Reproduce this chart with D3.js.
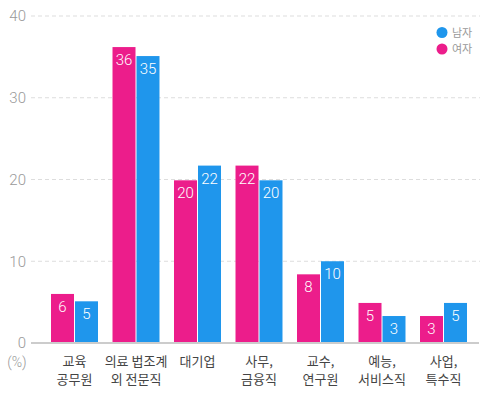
<!DOCTYPE html>
<html><head><meta charset="utf-8">
<script src="https://cdn.jsdelivr.net/npm/d3@7/dist/d3.min.js"></script>
<style>body{margin:0;background:#fff;} svg{display:block;font-family:"Noto Sans CJK KR","Noto Sans",sans-serif;}</style>
</head><body>
<svg id="c" width="487" height="394"></svg>
<script>
const categories = [["교육","공무원"],["의료 법조계","외 전문직"],["대기업"],["사무,","금융직"],["교수,","연구원"],["예능,","서비스직"],["사업,","특수직"]];
const female = [6.0, 36.2, 19.9, 21.7, 8.4, 4.9, 3.3];
const male = [5.1, 35.1, 21.7, 19.9, 10.0, 3.3, 4.9];
const seriesNames = ["여자","남자"];
const legendNames = ["남자","여자"];
const yTicks = [0,10,20,30,40];
const colors = {"여자":"#ec1d8b","남자":"#1f96ec"};

const svg = d3.select("#c");
const x0 = d3.scaleBand().domain(d3.range(categories.length)).range([43.75,474.25]).paddingInner(0.236).paddingOuter(0.118);
const x1 = d3.scaleBand().domain(seriesNames).range([0,x0.bandwidth()]).paddingInner(0.0417).paddingOuter(0);
const y = d3.scaleLinear().domain([0,40]).range([343,16]);

// grid
const g = svg.append("g");
g.selectAll("line.grid").data(yTicks.filter(d=>d>0)).join("line")
  .attr("x1",31).attr("x2",480).attr("y1",d=>y(d)).attr("y2",d=>y(d))
  .attr("stroke","#dddddd").attr("stroke-width",1).attr("stroke-dasharray","4,3");
// y labels
const yAxis = d3.axisLeft(y).tickValues(yTicks).tickSize(0).tickPadding(0);
const ya = svg.append("g").attr("transform","translate(26,0)").call(yAxis);
ya.select(".domain").remove();
ya.selectAll("text").attr("fill","#999").attr("font-size",15).attr("font-family","Roboto,sans-serif").attr("font-weight",300);
svg.append("text").attr("x",17).attr("y",367).attr("text-anchor","middle").attr("fill","#999").attr("font-size",14).attr("font-family","Roboto,sans-serif").attr("font-weight",300).text("(%)");

// bars
const data = categories.map((c,i)=>({i, vals:[{s:"여자",v:female[i]},{s:"남자",v:male[i]}]}));
const grp = svg.selectAll("g.grp").data(data).join("g").attr("transform",d=>`translate(${x0(d.i)},0)`);
grp.selectAll("rect").data(d=>d.vals).join("rect")
  .attr("x",d=>x1(d.s)).attr("width",x1.bandwidth())
  .attr("y",d=>y(d.v)).attr("height",d=>y(0)-y(d.v)).attr("fill",d=>colors[d.s]);
grp.selectAll("text").data(d=>d.vals).join("text")
  .attr("x",d=>x1(d.s)+x1.bandwidth()/2).attr("y",d=>y(d.v)+18)
  .attr("text-anchor","middle").attr("fill","#fff").attr("font-size",15)
  .attr("font-family","Roboto,sans-serif").attr("font-weight",300)
  .text(d=>Math.round(d.v));

// baseline
svg.append("line").attr("x1",31).attr("x2",479).attr("y1",y(0)).attr("y2",y(0)).attr("stroke","#cccccc").attr("stroke-width",2);

// x labels
const xl = svg.selectAll("text.xl").data(categories).join("text").attr("class","xl")
  .attr("text-anchor","middle").attr("fill","#444").attr("font-size",13)
  .attr("transform",(d,i)=>`translate(${x0(i)+x0.bandwidth()/2},366)`);
xl.selectAll("tspan").data(d=>d).join("tspan").attr("x",0).attr("dy",(d,j)=>j===0?0:17.5).text(d=>d);

// legend
const lg = svg.selectAll("g.lg").data(legendNames).join("g").attr("transform",(d,i)=>`translate(442,${32.5+i*16.5})`);
lg.append("circle").attr("r",5.5).attr("fill",d=>colors[d]);
lg.append("text").attr("x",10).attr("y",4).attr("fill","#999").attr("font-size",11).text(d=>d);
</script>
</body></html>
